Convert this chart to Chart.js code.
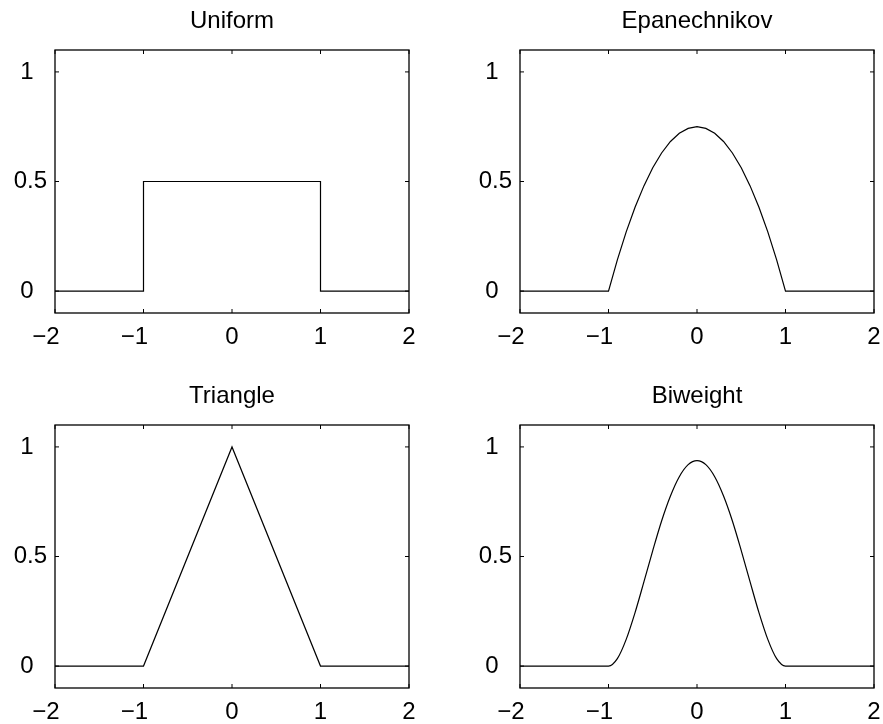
<!DOCTYPE html>
<html>
<head>
<meta charset="utf-8">
<title>Kernel functions</title>
<script src="https://cdn.jsdelivr.net/npm/chart.js@4.4.1/dist/chart.umd.min.js"></script>
<style>
    html, body {
        margin: 0;
        padding: 0;
        background: #fff;
        overflow: hidden;
    }
    #figure {
        position: relative;
        width: 883px;
        height: 724px;
    }
    #figure canvas {
        position: absolute;
    }
</style>
</head>
<body>
<div id="figure">
    <canvas id="uniformChart" width="418" height="349" style="left:0px;top:0px"></canvas>
    <canvas id="epanechnikovChart" width="418" height="349" style="left:465px;top:0px"></canvas>
    <canvas id="triangleChart" width="418" height="349" style="left:0px;top:375px"></canvas>
    <canvas id="biweightChart" width="418" height="349" style="left:465px;top:375px"></canvas>
</div>
<script>
// Axis ticks shared by all four panels
const xTickValues = [-2, -1, 0, 1, 2];
const xTickLabels = ['\u22122  \u2009', '\u22121  \u2009', '0', '1', '2'];
const yTickValues = [0, 0.5, 1];
const yTickLabels = ['0  ', '0.5', '1  '];

// Uniform kernel (step)
const uniformX = [-2, -1, -1, 1, 1, 2];
const uniformY = [0, 0, 0.5, 0.5, 0, 0];

// Triangle kernel
const triangleX = [-2, -1, 0, 1, 2];
const triangleY = [0, 0, 1, 0, 0];

// Smooth kernels sampled every 0.1 on [-1, 1]
const kernelX = [-2, -1, -0.9, -0.8, -0.7, -0.6, -0.5, -0.4, -0.3, -0.2, -0.1, 0,
    0.1, 0.2, 0.3, 0.4, 0.5, 0.6, 0.7, 0.8, 0.9, 1, 2];
const epanechnikovY = [0, 0, 0.1425, 0.27, 0.3825, 0.48, 0.5625, 0.63, 0.6825, 0.72, 0.7425, 0.75,
    0.7425, 0.72, 0.6825, 0.63, 0.5625, 0.48, 0.3825, 0.27, 0.1425, 0, 0];
const biweightY = [0, 0, 0.034, 0.122, 0.244, 0.384, 0.527, 0.662, 0.776, 0.864, 0.919, 0.9375,
    0.919, 0.864, 0.776, 0.662, 0.527, 0.384, 0.244, 0.122, 0.034, 0, 0];

const FONT = '"Liberation Sans", Arial, Helvetica, sans-serif';
Chart.defaults.font.family = FONT;
Chart.defaults.color = '#000';

// Closed box around the plot area with inward tick marks on every side
const boxFrame = {
    id: 'boxFrame',
    afterDatasetsDraw(chart) {
        const { ctx, chartArea: a, scales: { x, y } } = chart;
        const len = 4;
        ctx.save();
        ctx.strokeStyle = '#000';
        ctx.lineWidth = 1;
        ctx.beginPath();
        xTickValues.forEach(v => {
            const px = x.getPixelForValue(v);
            ctx.moveTo(px, a.bottom);
            ctx.lineTo(px, a.bottom - len);
            ctx.moveTo(px, a.top);
            ctx.lineTo(px, a.top + len);
        });
        yTickValues.forEach(v => {
            const py = y.getPixelForValue(v);
            ctx.moveTo(a.left, py);
            ctx.lineTo(a.left + len, py);
            ctx.moveTo(a.right, py);
            ctx.lineTo(a.right - len, py);
        });
        ctx.stroke();
        ctx.lineWidth = 1.3;
        ctx.strokeRect(a.left, a.top, a.right - a.left, a.bottom - a.top);
        ctx.restore();
    }
};

function makePanel(canvasId, title, xs, ys, smooth) {
    const points = xs.map((x, i) => ({ x: x, y: ys[i] }));
    return new Chart(document.getElementById(canvasId), {
        type: 'scatter',
        data: {
            datasets: [{
                data: points,
                showLine: true,
                borderColor: '#000',
                borderWidth: 1.2,
                pointRadius: 0,
                fill: false,
                tension: 0,
                cubicInterpolationMode: smooth ? 'monotone' : 'default'
            }]
        },
        options: {
            responsive: false,
            animation: false,
            events: [],
            layout: {
                padding: { left: 0, right: 9, top: 0, bottom: 0 }
            },
            plugins: {
                legend: { display: false },
                tooltip: { enabled: false },
                title: {
                    display: true,
                    text: title,
                    fullSize: false,
                    color: '#000',
                    font: { size: 24, weight: 'normal' },
                    padding: { top: 7, bottom: 14.2 }
                }
            },
            scales: {
                x: {
                    type: 'linear',
                    min: -2,
                    max: 2,
                    grid: { display: false, drawTicks: false },
                    border: { display: false },
                    afterBuildTicks: scale => {
                        scale.ticks = xTickValues.map(v => ({ value: v }));
                    },
                    afterFit: scale => {
                        scale.height = 36;
                        scale.paddingLeft = 0;
                        scale.paddingRight = 0;
                    },
                    ticks: {
                        padding: 10,
                        maxRotation: 0,
                        autoSkip: false,
                        color: '#000',
                        font: { size: 24 },
                        callback: (value, index) => xTickLabels[index]
                    }
                },
                y: {
                    type: 'linear',
                    min: -0.1,
                    max: 1.1,
                    grid: { display: false, drawTicks: false },
                    border: { display: false },
                    afterBuildTicks: scale => {
                        scale.ticks = yTickValues.map(v => ({ value: v }));
                    },
                    afterFit: scale => {
                        scale.width = 55;
                        scale.paddingTop = 0;
                        scale.paddingBottom = 0;
                    },
                    ticks: {
                        padding: 8,
                        autoSkip: false,
                        color: '#000',
                        font: { size: 24 },
                        callback: (value, index) => yTickLabels[index]
                    }
                }
            }
        },
        plugins: [boxFrame]
    });
}

makePanel('uniformChart', 'Uniform', uniformX, uniformY, false);
makePanel('epanechnikovChart', 'Epanechnikov', kernelX, epanechnikovY, false);
makePanel('triangleChart', 'Triangle', triangleX, triangleY, false);
makePanel('biweightChart', 'Biweight', kernelX, biweightY, true);
</script>
</body>
</html>
